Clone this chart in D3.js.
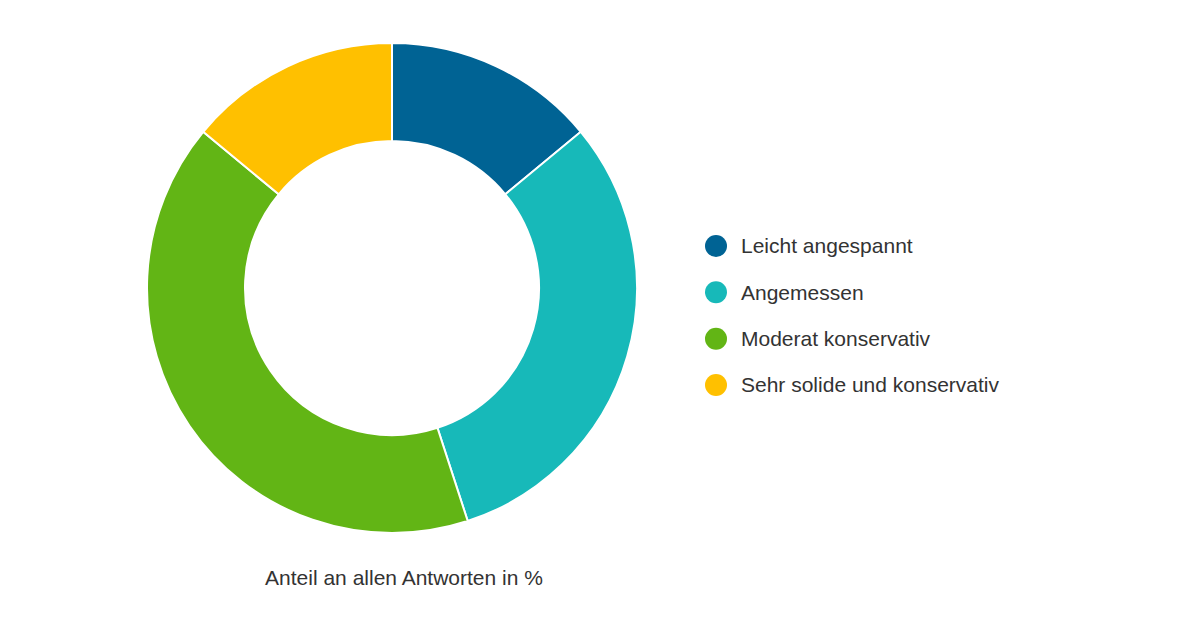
<!DOCTYPE html>
<html><head><meta charset="utf-8">
<script src="https://cdn.jsdelivr.net/npm/d3@7/dist/d3.min.js"></script>
<style>body{margin:0;background:#fff;font-family:Arial,"Liberation Sans",sans-serif}</style>
</head><body><svg id="c" width="1200" height="631"></svg>
<script>
const categories = ["Leicht angespannt","Angemessen","Moderat konservativ","Sehr solide und konservativ"];
const values = [14, 31, 41, 14];
const colors = ["#006394","#17b9b9","#62b515","#ffc000"];
const caption = "Anteil an allen Antworten in %";

const svg = d3.select("#c");
const cx = 392, cy = 288, R = 245, r = 147;
const pie = d3.pie().sort(null).value(d => d)(values);
const arc = d3.arc().innerRadius(r).outerRadius(R);
const g = svg.append("g").attr("transform", `translate(${cx},${cy})`);
g.selectAll("path").data(pie).join("path")
  .attr("d", arc).attr("fill", (d,i) => colors[i])
  .attr("stroke", "#fff").attr("stroke-width", 2);

svg.append("text").attr("x", cx+12).attr("y", 585).attr("text-anchor","middle")
  .attr("font-size", 21).attr("fill", "#333").text(caption);

const ly = d3.scalePoint().domain(categories).range([246, 385]);
const lg = svg.append("g").selectAll("g").data(categories).join("g")
  .attr("transform", d => `translate(716,${ly(d)})`);
lg.append("circle").attr("r", 11).attr("fill", (d,i) => colors[i]);
lg.append("text").attr("x", 25).attr("dy", "0.35em").attr("font-size", 21)
  .attr("fill", "#333").text(d => d);
</script></body></html>
